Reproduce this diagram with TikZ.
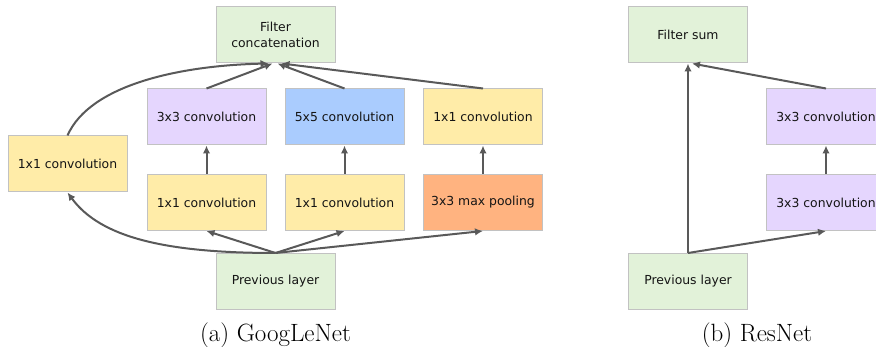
\documentclass[tikz,border=0pt]{standalone}
\usepackage{fontspec}
\newfontfamily\boxfont{DejaVu Sans}
\usetikzlibrary{arrows.meta,calc}

\definecolor{boxgreen}{HTML}{E2F2D9}
\definecolor{boxyellow}{HTML}{FFECA8}
\definecolor{boxpurple}{HTML}{E5D6FE}
\definecolor{boxblue}{HTML}{AACCFE}
\definecolor{boxorange}{HTML}{FFB380}
\definecolor{boxedge}{HTML}{C2C2C2}
\definecolor{linkgray}{HTML}{595959}

\tikzset{
  layer/.style={draw=boxedge, line width=1pt, minimum width=119pt, minimum height=56pt,
    inner sep=2pt, align=center, text=black!92,
    font=\boxfont\fontsize{12.4}{16}\selectfont},
  greenbox/.style={layer, fill=boxgreen},
  yellowbox/.style={layer, fill=boxyellow},
  purplebox/.style={layer, fill=boxpurple},
  bluebox/.style={layer, fill=boxblue},
  orangebox/.style={layer, fill=boxorange},
  link/.style={draw=linkgray, line width=2pt, -{Latex[length=8pt,width=7.5pt]}},
  caption/.style={anchor=base, font=\fontsize{25}{29}\selectfont}
}

\begin{document}
\begin{tikzpicture}[x=1pt, y=-1pt]
  \clip (0,0) rectangle (876,347);

  % GoogLeNet inception module
  \node[greenbox]  (concat) at (275.5,35)    {Filter\\concatenation};
  \node[purplebox] (conv3)  at (206.5,117)   {3x3 convolution};
  \node[bluebox]   (conv5)  at (344.5,117)   {5x5 convolution};
  \node[yellowbox] (projp)  at (483,117)     {1x1 convolution};
  \node[yellowbox] (side)   at (67.5,164)    {1x1 convolution};
  \node[yellowbox] (red3)   at (206.5,202.5) {1x1 convolution};
  \node[yellowbox] (red5)   at (344.5,202.5) {1x1 convolution};
  \node[orangebox] (pool)   at (483,202.5)   {3x3 max pooling};
  \node[greenbox]  (prev)   at (275.5,281.5) {Previous layer};

  \draw[link] (prev.north) .. controls +(-110,0) and +(33,45) .. (side.south);
  \draw[link] (prev.north) -- (red3.south);
  \draw[link] (prev.north) -- (red5.south);
  \draw[link] (prev.north) -- (pool.south);
  \draw[link] (red3.north) -- (conv3.south);
  \draw[link] (red5.north) -- (conv5.south);
  \draw[link] (pool.north) -- (projp.south);
  \draw[link] (side.north) .. controls +(22.5,-51) and +(-88,2) .. ($(concat.south)+(-7,0)$);
  \draw[link] (conv3.north) -- ($(concat.south)+(-3,0)$);
  \draw[link] (conv5.north) -- ($(concat.south)+(2,0)$);
  \draw[link] (projp.north) -- ($(concat.south)+(6,0)$);

  \node[caption] (capa) at (275.5,341.5) {(a) GoogLeNet};

  % ResNet residual block
  \node[greenbox]  (sum)   at (688,35)    {Filter sum};
  \node[purplebox] (resb)  at (826,117)   {3x3 convolution};
  \node[purplebox] (resa)  at (826,202.5) {3x3 convolution};
  \node[greenbox]  (prevr) at (688,281.5) {Previous layer};

  \draw[link] (prevr.north) -- (sum.south);
  \draw[link] (prevr.north) -- (resa.south);
  \draw[link] (resa.north) -- (resb.south);
  \draw[link] (resb.north) -- ($(sum.south)+(4,0)$);

  \node[caption] (capb) at (757,341.5) {(b) ResNet};
\end{tikzpicture}
\end{document}
